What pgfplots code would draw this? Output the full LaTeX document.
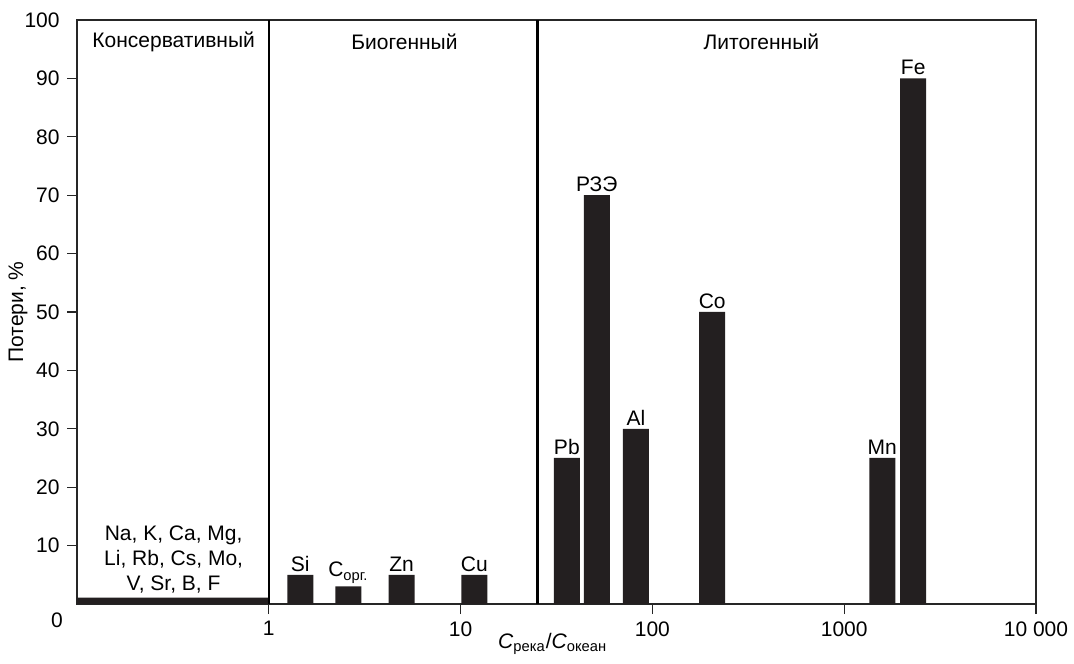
\documentclass[border=0pt]{standalone}
\usepackage{pgfplots}
\pgfplotsset{compat=1.18}
\usepackage{fontspec}
\setmainfont{Liberation Sans}
\definecolor{barc}{RGB}{35,31,32}
\begin{document}
\fontsize{10.5}{12.6}\selectfont
\begin{tikzpicture}
\path[use as bounding box] (-38.5pt,-29.5pt) rectangle (498.5pt,302pt);
\begin{axis}[
 at={(0,0)}, anchor=south west,
 scale only axis, width=479.5pt, height=292pt,
 xmode=log, xmin=0.1, xmax=10000, ymin=0, ymax=100,
 xtick={1,10,100,1000,10000}, xticklabels={1,10,100,1000,10\ 000},
 xminorticks=false,
 ytick={10,20,...,90},
 extra y ticks={100}, extra y tick style={major tick style={draw=none}},
 tick align=outside, xtick pos=left, ytick pos=left,
 major tick length=5pt,
 /pgf/number format/assume math mode=true,
 axis line style={black!85, line width=0.6pt},
 tick style={black!85, line width=0.6pt},
 ylabel={Потери, \%},
 ylabel style={at={(axis description cs:-0.0615,0.5)}, anchor=center},
 xlabel={\textit{C}\textsubscript{река}/\textit{C}\textsubscript{океан}},
 xlabel style={at={(axis description cs:0.496,-0.068)}, anchor=center},
 clip=false,
]
\addplot[fill=barc, draw=none] coordinates {(0.1,0) (0.1,1.1) (1,1.1) (1,0)} \closedcycle;
\addplot[black, line width=0.7pt] coordinates {(1,0) (1,100)};
\addplot[black, line width=1.1pt] coordinates {(25.2,0) (25.2,100)};
\addplot[ybar, bar width=13pt, fill=barc, draw=none,
  nodes near coords, point meta=explicit symbolic,
  every node near coord/.append style={inner sep=1.5pt, black}]
 coordinates {
 (1.46,5) [Si]
 (2.6,3) [C\textsubscript{орг.}]
 (4.92,5) [Zn]
 (11.8,5) [Cu]
 (35.8,25) [Pb]
 (51.3,70) [РЗЭ]
 (82,30) [Al]
 (205,50) [Co]
 (1580,25) [Mn]
 (2290,90) [Fe]
 };
\node at (axis cs:0.319,96.2) {Консервативный};
\node at (axis cs:5.1,96.2) {Биогенный};
\node at (axis cs:370,96.2) {Литогенный};
\node[align=center, font=\fontsize{10.5}{12.5}\selectfont] at (axis cs:0.319,7.6) {Na, K, Ca, Mg,\\Li, Rb, Cs, Mo,\\V, Sr, B, F};
\node at (rel axis cs:0,0) [xshift=-10pt, yshift=-8pt] {0};
\end{axis}
\end{tikzpicture}
\end{document}
